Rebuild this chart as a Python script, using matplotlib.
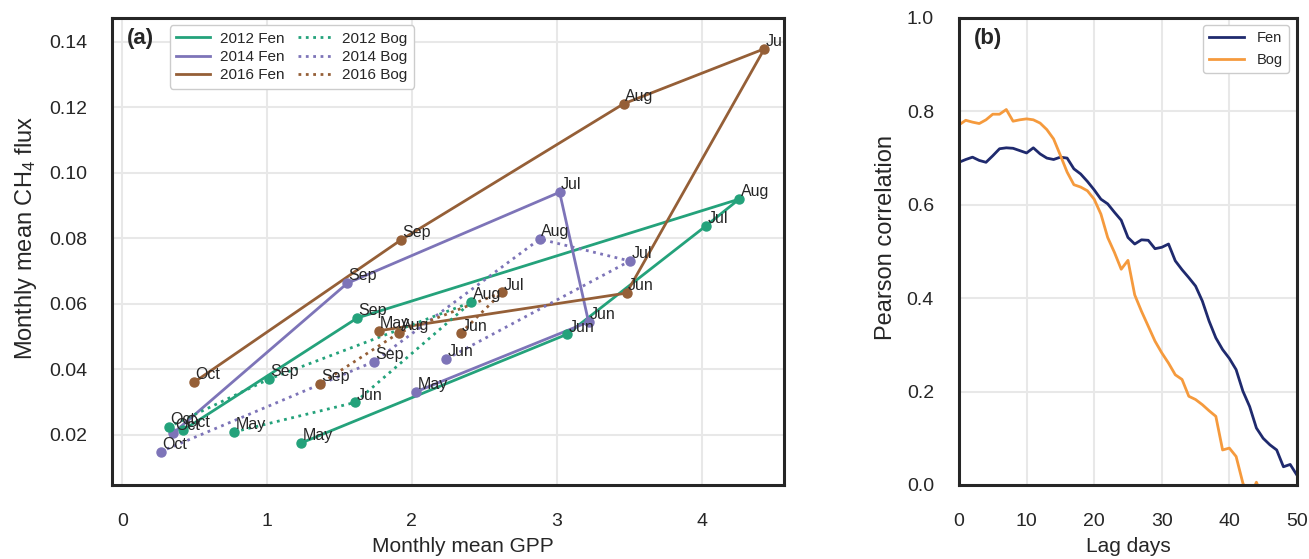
import numpy as np
import matplotlib
matplotlib.use("Agg")
import matplotlib.pyplot as plt
from matplotlib.lines import Line2D

plt.rcParams['font.family'] = ['Liberation Sans', 'DejaVu Sans']
plt.rcParams['mathtext.default'] = 'regular'

# ---------------- Panel (a) data ----------------
fen2012_months = ["May", "Jun", "Jul", "Aug", "Sep", "Oct"]
fen2012_gpp = [1.234, 3.07, 4.03, 4.26, 1.623, 0.423]
fen2012_ch4 = [0.0175, 0.0507, 0.0838, 0.0920, 0.0557, 0.0215]

bog2012_months = ["May", "Jun", "Aug", "Sep", "Oct"]
bog2012_gpp = [0.772, 1.607, 2.41, 1.016, 0.32]
bog2012_ch4 = [0.0209, 0.0299, 0.0605, 0.0371, 0.0224]

fen2014_months = ["May", "Jun", "Jul", "Sep", "Oct"]
fen2014_gpp = [2.03, 3.22, 3.02, 1.554, 0.354]
fen2014_ch4 = [0.0332, 0.0545, 0.0941, 0.0663, 0.0206]

bog2014_months = ["Jun", "Jul", "Aug", "Sep", "Oct"]
bog2014_gpp = [2.239, 3.505, 2.883, 1.74, 0.267]
bog2014_ch4 = [0.0432, 0.0731, 0.0798, 0.0424, 0.0149]

fen2016_months = ["May", "Jun", "Jul", "Aug", "Sep", "Oct"]
fen2016_gpp = [1.772, 3.482, 4.434, 3.462, 1.924, 0.497]
fen2016_ch4 = [0.0518, 0.0633, 0.1379, 0.1211, 0.0795, 0.0361]

bog2016_months = ["Jun", "Jul", "Aug", "Sep"]
bog2016_gpp = [2.336, 2.623, 1.913, 1.366]
bog2016_ch4 = [0.0510, 0.0635, 0.0512, 0.0356]

# ---------------- Panel (b) data ----------------
lag_days = list(range(0, 51))
fen_corr = [0.691, 0.697, 0.702, 0.695, 0.691, 0.705, 0.720, 0.722, 0.721, 0.716,
            0.711, 0.722, 0.709, 0.700, 0.697, 0.702, 0.700, 0.677, 0.666, 0.650,
            0.632, 0.612, 0.602, 0.584, 0.567, 0.530, 0.516, 0.525, 0.524, 0.506,
            0.509, 0.516, 0.480, 0.461, 0.444, 0.426, 0.394, 0.351, 0.315, 0.290,
            0.271, 0.247, 0.201, 0.168, 0.122, 0.100, 0.086, 0.075, 0.039, 0.044,
            0.021]
bog_corr = [0.771, 0.781, 0.777, 0.774, 0.782, 0.794, 0.794, 0.804, 0.779, 0.782,
            0.784, 0.782, 0.775, 0.761, 0.741, 0.706, 0.670, 0.643, 0.638, 0.630,
            0.612, 0.580, 0.530, 0.498, 0.462, 0.481, 0.407, 0.372, 0.340, 0.308,
            0.283, 0.261, 0.236, 0.226, 0.190, 0.183, 0.172, 0.159, 0.147, 0.075,
            0.079, 0.061, 0.004, -0.030, 0.006, -0.030, -0.050, -0.060, -0.070, -0.080,
            -0.090]

# ---------------- Styling ----------------
c_green = '#24a27b'
c_purple = '#7d74b8'
c_brown = '#955f37'
c_fen = '#1f2a6e'
c_bog = '#f59a3d'
txt = '#262626'
grid_color = '#e8e8e8'

fig = plt.figure(figsize=(13.09, 5.59), dpi=100)
ax1 = fig.add_axes([0.0856, 0.1324, 0.5134, 0.8354])
ax2 = fig.add_axes([0.7326, 0.1324, 0.2582, 0.8354])

for ax in (ax1, ax2):
    ax.set_axisbelow(True)
    ax.grid(True, color=grid_color, lw=1.5)
    for s in ax.spines.values():
        s.set_color(txt)
        s.set_linewidth(2.2)
    ax.tick_params(length=0, labelsize=14, colors=txt)
    ax.tick_params(axis='x', pad=20)
    ax.tick_params(axis='y', pad=18)

series = [
    (fen2012_months, fen2012_gpp, fen2012_ch4, c_green, '-', '2012 Fen'),
    (fen2014_months, fen2014_gpp, fen2014_ch4, c_purple, '-', '2014 Fen'),
    (fen2016_months, fen2016_gpp, fen2016_ch4, c_brown, '-', '2016 Fen'),
    (bog2012_months, bog2012_gpp, bog2012_ch4, c_green, ':', '2012 Bog'),
    (bog2014_months, bog2014_gpp, bog2014_ch4, c_purple, ':', '2014 Bog'),
    (bog2016_months, bog2016_gpp, bog2016_ch4, c_brown, ':', '2016 Bog'),
]

handles = []
for months, gpp, ch4, col, ls, lab in series:
    ax1.plot(gpp, ch4, color=col, ls=ls, lw=2.0, zorder=2)
    ax1.plot(gpp, ch4, ls='none', marker='o', ms=6.5, color=col, zorder=3)
    for m, x, y in zip(months, gpp, ch4):
        ax1.annotate(m, (x, y), xytext=(1, 2), textcoords='offset points',
                     ha='left', va='baseline', fontsize=11.5, color=txt, zorder=4)
    handles.append(Line2D([0], [0], color=col, ls=ls, lw=2.0, label=lab))

ax1.set_xlim(-0.07, 4.57)
ax1.set_ylim(0.0047, 0.1473)
ax1.set_xticks([0, 1, 2, 3, 4])
ax1.set_yticks([0.02, 0.04, 0.06, 0.08, 0.10, 0.12, 0.14])
ax1.set_yticklabels(['0.02', '0.04', '0.06', '0.08', '0.10', '0.12', '0.14'])
ax1.set_xlabel('Monthly mean GPP', fontsize=15, color=txt, labelpad=5, x=0.522)
ax1.set_ylabel('Monthly mean CH$_4$ flux', fontsize=17, color=txt, labelpad=7, y=0.53)
ax1.text(0.022, 0.978, '(a)', transform=ax1.transAxes, fontsize=16, fontweight='bold',
         va='top', ha='left', color=txt)
leg1 = ax1.legend(handles=handles, ncol=2, loc='upper left', bbox_to_anchor=(0.0863, 0.984),
                  borderaxespad=0, fontsize=11, frameon=True, framealpha=1,
                  edgecolor='#cccccc', handlelength=2.2, columnspacing=0.85,
                  labelspacing=0.29, handletextpad=0.7, borderpad=0.4)
for t in leg1.get_texts():
    t.set_color(txt)

ax2.plot(lag_days, fen_corr, color=c_fen, lw=2.0, label='Fen')
ax2.plot(lag_days, bog_corr, color=c_bog, lw=2.0, label='Bog')
ax2.set_xlim(0, 50)
ax2.set_ylim(0, 1.0)
ax2.set_xticks([0, 10, 20, 30, 40, 50])
ax2.set_yticks([0.0, 0.2, 0.4, 0.6, 0.8, 1.0])
ax2.set_yticklabels(['0.0', '0.2', '0.4', '0.6', '0.8', '1.0'])
ax2.set_xlabel('Lag days', fontsize=15, color=txt, labelpad=5)
ax2.set_ylabel('Pearson correlation', fontsize=17, color=txt, labelpad=7, y=0.53)
ax2.text(0.045, 0.978, '(b)', transform=ax2.transAxes, fontsize=16, fontweight='bold',
         va='top', ha='left', color=txt)
leg2 = ax2.legend(loc='upper right', bbox_to_anchor=(0.976, 0.984), borderaxespad=0,
                  fontsize=10.5, frameon=True, framealpha=1, edgecolor='#cccccc',
                  handlelength=2.4, labelspacing=0.55, handletextpad=0.9, borderpad=0.4)
for t in leg2.get_texts():
    t.set_color(txt)

fig.savefig('out.png', dpi=100)
